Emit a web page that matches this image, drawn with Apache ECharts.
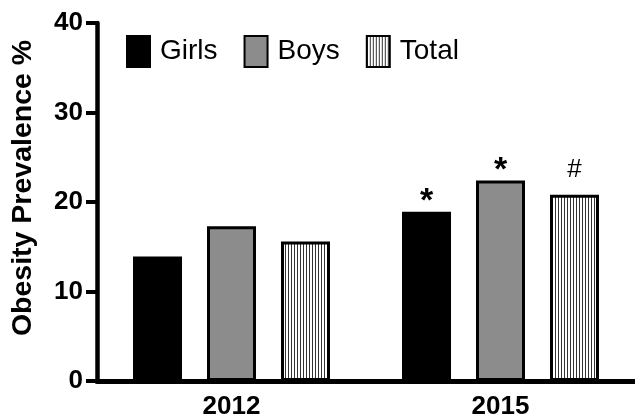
<!DOCTYPE html>
<html>
<head>
<meta charset="utf-8">
<script src="https://cdn.jsdelivr.net/npm/echarts@6/dist/echarts.min.js"></script>
<style>
html,body{margin:0;padding:0;background:#fff;}
#chart{width:635px;height:420px;}
</style>
</head>
<body>
<div id="chart"></div>
<script>
const categories = ['2012', '2015'];
const girls = [13.9, 18.9];
const boys = [17.3, 22.4];
const total = [15.6, 20.8];
const girlsMarks = ['', '*'];
const boysMarks = ['', '*'];
const totalMarks = ['', '#'];
const yTicks = [0, 10, 20, 30, 40];

const FONT = '"Liberation Sans", Arial, Helvetica, sans-serif';

const pc = document.createElement('canvas');
pc.width = 3; pc.height = 4;
const pctx = pc.getContext('2d');
pctx.fillStyle = '#ffffff';
pctx.fillRect(0, 0, 3, 4);
pctx.fillStyle = '#333333';
pctx.fillRect(0, 0, 1, 4);
const stripe = { image: pc, repeat: 'repeat' };

function markLabel(marks, bold, size, dist, dy) {
  return {
    show: true,
    position: 'top',
    distance: dist,
    offset: [0, dy],
    color: '#000',
    fontFamily: FONT,
    fontWeight: bold ? 'bold' : 'normal',
    fontSize: size,
    formatter: p => marks[p.dataIndex]
  };
}

const chart = echarts.init(document.getElementById('chart'), null, { renderer: 'canvas' });
chart.setOption({
  animation: false,
  backgroundColor: '#ffffff',
  grid: { left: 97, right: -8, top: 23, bottom: 36, containLabel: false },
  legend: {
    left: 126,
    top: 35,
    padding: 0,
    icon: 'rect',
    itemWidth: 23,
    itemHeight: 31,
    itemGap: 26,
    textStyle: { fontFamily: FONT, fontSize: 28, color: '#000', padding: [0, 0, 0, 5] },
    data: ['Girls', 'Boys', 'Total']
  },
  xAxis: {
    type: 'category',
    data: categories,
    axisLine: { lineStyle: { color: '#000', width: 5 } },
    axisTick: { show: false },
    axisLabel: { color: '#000', fontFamily: FONT, fontWeight: 'bold', fontSize: 26, margin: 13 }
  },
  yAxis: {
    type: 'value',
    min: yTicks[0],
    max: yTicks[yTicks.length - 1],
    interval: 10,
    name: 'Obesity Prevalence %',
    nameLocation: 'middle',
    nameGap: 59,
    nameTextStyle: { color: '#000', fontFamily: FONT, fontWeight: 'bold', fontSize: 28.5, padding: [0, 0, 0, 28] },
    axisLine: { show: true, lineStyle: { color: '#000', width: 4.5 } },
    axisTick: { show: true, length: 11, lineStyle: { color: '#000', width: 4 } },
    axisLabel: { color: '#000', fontFamily: FONT, fontWeight: 'bold', fontSize: 26, margin: 14 },
    splitLine: { show: false }
  },
  series: [
    {
      name: 'Girls', type: 'bar', data: girls, barWidth: 49, barGap: '51%',
      itemStyle: { color: '#000', borderColor: '#000', borderWidth: 3 },
      label: markLabel(girlsMarks, true, 34, 0, 7)
    },
    {
      name: 'Boys', type: 'bar', data: boys, barWidth: 49, barGap: '51%',
      itemStyle: { color: '#8c8c8c', borderColor: '#000', borderWidth: 3 },
      label: markLabel(boysMarks, true, 34, 0, 7)
    },
    {
      name: 'Total', type: 'bar', data: total, barWidth: 49, barGap: '51%',
      itemStyle: { color: stripe, borderColor: '#000', borderWidth: 3 },
      label: markLabel(totalMarks, false, 26, 12, 0)
    }
  ]
});
</script>
</body>
</html>
